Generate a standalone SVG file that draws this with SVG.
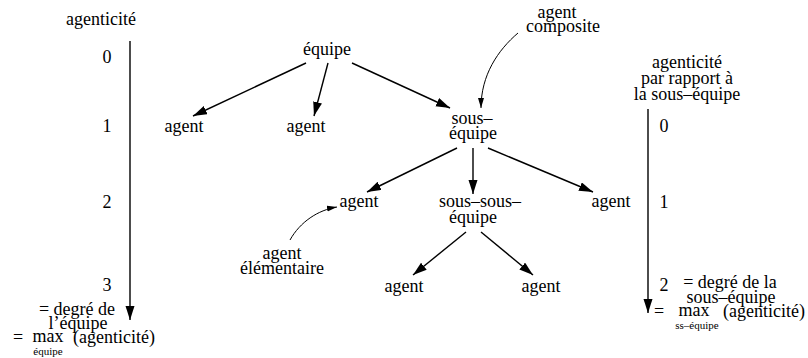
<svg xmlns="http://www.w3.org/2000/svg" width="808" height="358" viewBox="0 0 808 358">
<style>
text{font-family:'Liberation Serif','DejaVu Serif',serif;font-size:18px;fill:#000;text-anchor:middle}
text.s{font-size:11px}
text.l{text-anchor:start}
.c{stroke:#000;stroke-width:1.4;fill:none}
.t{stroke:#000;stroke-width:1;fill:none}
</style>
<defs>
<marker id="ah" markerUnits="userSpaceOnUse" markerWidth="15" markerHeight="10" refX="14" refY="4.5" orient="auto"><path d="M0,0 L14,4.5 L0,9 z" fill="#000"/></marker>
<marker id="sh" markerUnits="userSpaceOnUse" markerWidth="11" markerHeight="7" refX="10" refY="3" orient="auto"><path d="M0,0 L10,3 L0,6 z" fill="#000"/></marker>
</defs>
<rect width="808" height="358" fill="#fff"/>
<g font-family="Liberation Serif, DejaVu Serif, serif">
<g id="axis-left">
<text x="101" y="25">agenticité</text>
<text x="107" y="63">0</text>
<text x="107" y="132">1</text>
<text x="107" y="208">2</text>
<text x="107" y="291">3</text>
<text x="77" y="315">= degré de</text>
<text x="78" y="329">l’équipe</text>
<text class="l" x="13" y="343">=</text>
<text x="48" y="342">max</text>
<text class="s" x="48" y="355">équipe</text>
<text class="l" x="73" y="343">(agenticité)</text>
</g>
<g id="axis-right">
<text x="687" y="68">agenticité</text>
<text x="687" y="84">par rapport à</text>
<text x="687" y="100">la sous–équipe</text>
<text x="664" y="132">0</text>
<text x="664" y="208">1</text>
<text x="664" y="291">2</text>
<text x="730" y="288">= degré de la</text>
<text x="731" y="303">sous–équipe</text>
<text class="l" x="654" y="317">=</text>
<text x="694" y="316">max</text>
<text class="s" x="697" y="329">ss–équipe</text>
<text class="l" x="723" y="317">(agenticité)</text>
</g>
<g id="n-equipe"><text x="327" y="55">équipe</text></g>
<g id="n-agent1"><text x="184" y="132">agent</text></g>
<g id="n-agent2"><text x="306" y="132">agent</text></g>
<g id="n-sous-equipe"><text x="472" y="124">sous–</text><text x="473" y="139">équipe</text></g>
<g id="n-agent-composite"><text x="557" y="18">agent</text><text x="563" y="32">composite</text></g>
<g id="n-agent3"><text x="359" y="207">agent</text></g>
<g id="n-sous-sous-equipe"><text x="480" y="207">sous–sous–</text><text x="473" y="223">équipe</text></g>
<g id="n-agent4"><text x="611" y="207">agent</text></g>
<g id="n-agent-elementaire"><text x="282" y="259">agent</text><text x="282" y="274">élémentaire</text></g>
<g id="n-agent5"><text x="404" y="292">agent</text></g>
<g id="n-agent6"><text x="541" y="292">agent</text></g>
</g>
<g id="connectors">
<line class="c" x1="130" y1="41" x2="130" y2="320" marker-end="url(#ah)"/>
<line class="c" x1="648" y1="109" x2="648" y2="313" marker-end="url(#ah)"/>
<line class="c" x1="306" y1="63" x2="193" y2="116" marker-end="url(#ah)"/>
<line class="c" x1="328" y1="63" x2="314" y2="116" marker-end="url(#ah)"/>
<line class="c" x1="352" y1="63" x2="450" y2="108" marker-end="url(#ah)"/>
<line class="c" x1="457" y1="148" x2="367" y2="192" marker-end="url(#ah)"/>
<line class="c" x1="473" y1="148" x2="473" y2="194" marker-end="url(#ah)"/>
<line class="c" x1="488" y1="148" x2="593" y2="192" marker-end="url(#ah)"/>
<line class="c" x1="466" y1="232" x2="413" y2="275" marker-end="url(#ah)"/>
<line class="c" x1="481" y1="232" x2="533" y2="275" marker-end="url(#ah)"/>
<path class="t" d="M518,33 C498,50 481,75 481,108" marker-end="url(#sh)"/>
<path class="t" d="M290,240 C300,222 318,210 337,207" marker-end="url(#sh)"/>
</g>
</svg>
